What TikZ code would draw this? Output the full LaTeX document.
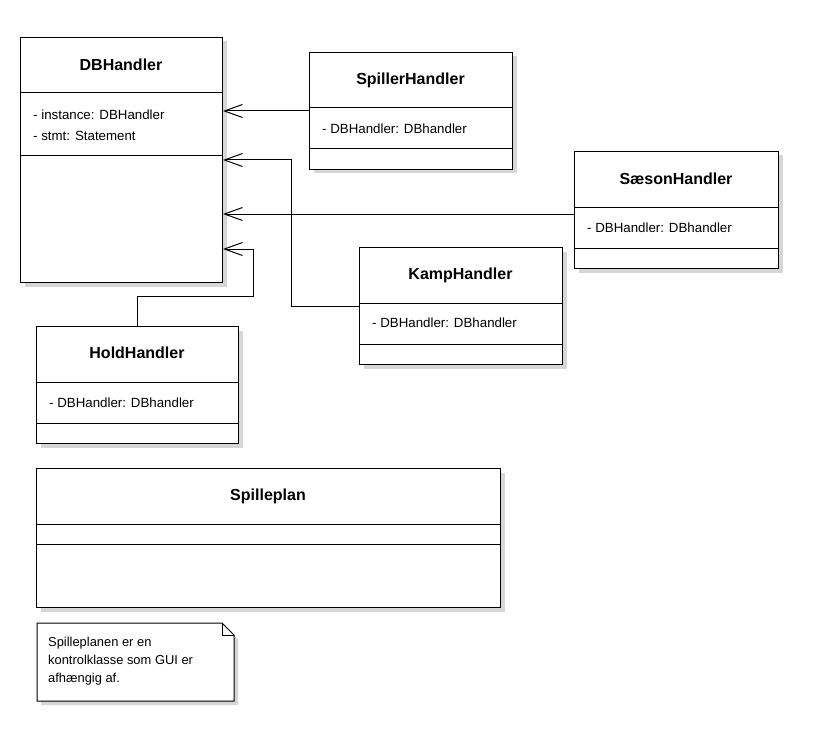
\documentclass[tikz,border=0pt]{standalone}
\usepackage{fontspec}
\setmainfont{Liberation Sans}
\usetikzlibrary{arrows.meta,shadows,calc}
\newcommand{\clstitlefont}{\fontsize{16}{18}\selectfont\bfseries}
\newcommand{\clsattrfont}{\fontsize{13.3}{16}\selectfont}
\newcommand{\clsnotefont}{\fontsize{12.9}{18}\selectfont}
\tikzset{
  cls/.style={draw, fill=white, line width=1pt, anchor=north west, inner sep=0pt,
    drop shadow={shadow xshift=4pt, shadow yshift=-4pt, fill=black!32}},
  clstitle/.style={font=\clstitlefont, anchor=center, inner sep=0pt},
  clsattr/.style={font=\clsattrfont, anchor=west, inner sep=0pt},
  clssep/.style={line width=1pt},
  dep/.style={line width=1pt, -{Straight Barb[length=18pt,width=13pt,line width=1pt]}},
  notebox/.style={draw, fill=white, line width=1pt,
    drop shadow={shadow xshift=4pt, shadow yshift=-4pt, fill=black!32}},
  notetext/.style={font=\clsnotefont, anchor=north west, inner sep=0pt, align=left}
}
\begin{document}
\begin{tikzpicture}[x=1pt,y=-1pt]
\useasboundingbox (0,0) rectangle (824,746);

% DBHandler
\node[cls, minimum width=202pt, minimum height=245pt] (db) at (20,37) {};
\node[clstitle] (dbt) at (121,65) {DBHandler};
\draw[clssep] (db.west |- 0,93) -- (db.east |- 0,93);
\draw[clssep] (db.west |- 0,156) -- (db.east |- 0,156);
\node[clsattr] (dba1) at (33,115) {- instance: DBHandler};
\node[clsattr] (dba2) at (33,136) {- stmt: Statement};

% SpillerHandler
\node[cls, minimum width=203pt, minimum height=117pt] (sp) at (309,52) {};
\node[clstitle] (spt) at (410.5,80) {SpillerHandler};
\draw[clssep] (sp.west |- 0,108) -- (sp.east |- 0,108);
\draw[clssep] (sp.west |- 0,149) -- (sp.east |- 0,149);
\node[clsattr] (spa) at (322,129) {- DBHandler: DBhandler};

% SaesonHandler
\node[cls, minimum width=204pt, minimum height=117pt] (sa) at (574,151) {};
\node[clstitle] (sat) at (676,179) {SæsonHandler};
\draw[clssep] (sa.west |- 0,207) -- (sa.east |- 0,207);
\draw[clssep] (sa.west |- 0,248) -- (sa.east |- 0,248);
\node[clsattr] (saa) at (587,228) {- DBHandler: DBhandler};

% KampHandler
\node[cls, minimum width=203pt, minimum height=117pt] (ka) at (359,247) {};
\node[clstitle] (kat) at (460.5,275) {KampHandler};
\draw[clssep] (ka.west |- 0,303) -- (ka.east |- 0,303);
\draw[clssep] (ka.west |- 0,344) -- (ka.east |- 0,344);
\node[clsattr] (kaa) at (372,323) {- DBHandler: DBhandler};

% HoldHandler
\node[cls, minimum width=202pt, minimum height=117pt] (ho) at (36,326) {};
\node[clstitle] (hot) at (137,353) {HoldHandler};
\draw[clssep] (ho.west |- 0,382) -- (ho.east |- 0,382);
\draw[clssep] (ho.west |- 0,423) -- (ho.east |- 0,423);
\node[clsattr] (hoa) at (49,403) {- DBHandler: DBhandler};

% Spilleplan
\node[cls, minimum width=464pt, minimum height=139pt] (pl) at (36,468) {};
\node[clstitle] (plt) at (268,496) {Spilleplan};
\draw[clssep] (pl.west |- 0,524) -- (pl.east |- 0,524);
\draw[clssep] (pl.west |- 0,544) -- (pl.east |- 0,544);

% Note
\coordinate (nnw) at (37,623);
\coordinate (nse) at (234,701);
\draw[notebox] (nnw) -- (222,623) -- (234,635) -- (nse) -- (37,701) -- cycle;
\draw[line width=1pt] (222,623) -- (222,635) -- (234,635);
\node[notetext] (note) at (48,637) {Spilleplanen er en\\kontrolklasse som GUI er\\afhængig af.};

% Connectors
\draw[dep] (sp.west |- 0,111) -- (db.east |- 0,111);
\draw[dep] (ka.west |- 0,306) -| (291,160) -- (db.east |- 0,160);
\draw[dep] (sa.west |- 0,214) -- (db.east |- 0,214);
\draw[dep] (ho.north) |- (253,296) |- (db.east |- 0,249);
\end{tikzpicture}
\end{document}
